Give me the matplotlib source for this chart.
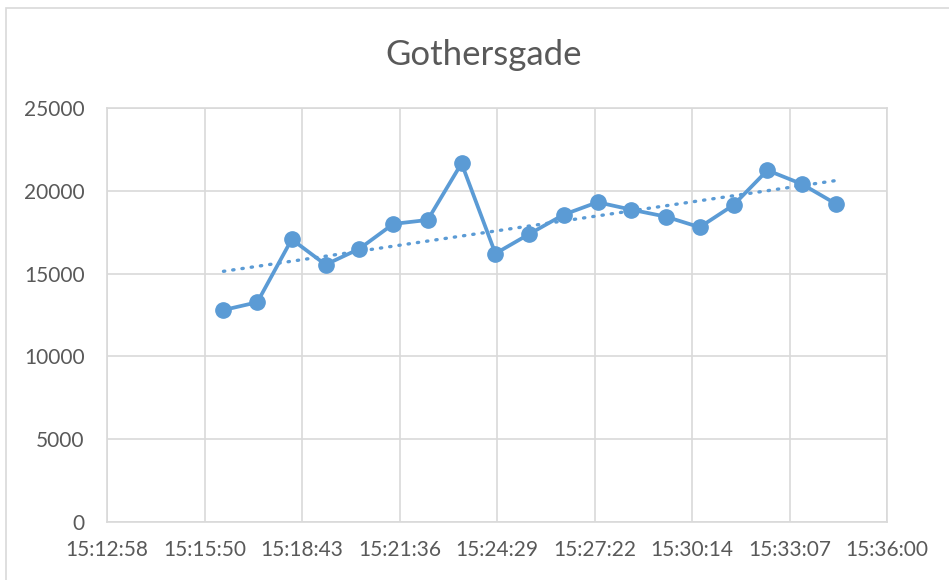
import matplotlib.pyplot as plt
import matplotlib.patches as mpatches
import numpy as np

# readings, one a minute
times = ['15:16:24', '15:17:24', '15:18:25', '15:19:25', '15:20:25', '15:21:25',
         '15:22:26', '15:23:26', '15:24:26', '15:25:26', '15:26:27', '15:27:27',
         '15:28:27', '15:29:28', '15:30:28', '15:31:28', '15:32:28', '15:33:29',
         '15:34:29']
values = [12800, 13270, 17070, 15540, 16500, 18000, 18240, 21660, 16210, 17390,
          18560, 19310, 18860, 18440, 17800, 19140, 21240, 20410, 19220]
tick_labels = ['15:12:58', '15:15:50', '15:18:43', '15:21:36', '15:24:29',
               '15:27:22', '15:30:14', '15:33:07', '15:36:00']
title = 'Gothersgade'

def to_days(s):
    h, m, sec = [int(p) for p in s.split(':')]
    return (h * 3600 + m * 60 + sec) / 86400.0

x = np.array([to_days(t) for t in times])
y = np.array(values)

blue = '#5B9BD5'
grey = '#595959'
plt.rcParams['font.family'] = ['Lato', 'DejaVu Sans']

fig = plt.figure(figsize=(9.49, 5.80), dpi=100)
# outer chart border (cut off at right/bottom in the reference)
fig.patches.append(mpatches.Rectangle((6 / 949, -0.05), 1.0, 1 - 8 / 580 + 0.05,
                                      transform=fig.transFigure, fill=False,
                                      edgecolor='#D9D9D9', linewidth=1.2))
ax = fig.add_axes([107 / 949, 1 - 522 / 580, 780 / 949, 414 / 580])

ax.plot(x, y, color=blue, linewidth=2.7, marker='o', markersize=11, zorder=3)

# linear trendline
k, b = np.polyfit(x, y, 1)
ax.plot(x[[0, -1]], k * x[[0, -1]] + b, color=blue, linewidth=2.4,
        linestyle=(0, (0.4, 2.4)), dash_capstyle='round', zorder=2)

ticks = [0.634 + 0.002 * i for i in range(len(tick_labels))]
ax.set_xlim(0.634, 0.650)
ax.set_xticks(ticks, labels=tick_labels)
ax.set_ylim(0, 25000)
ax.set_yticks(range(0, 25001, 5000))

ax.grid(True, color='#D9D9D9', linewidth=1.2)
ax.set_axisbelow(True)
for sp in ax.spines.values():
    sp.set_color('#D9D9D9')
    sp.set_linewidth(1.2)
ax.tick_params(length=0, colors=grey, labelsize=15)
ax.tick_params(axis='y', pad=16)
ax.tick_params(axis='x', pad=13)

fig.text(484 / 949, 1 - 55 / 580, title, ha='center', va='center',
         fontsize=25, color=grey)

plt.savefig('out.png', dpi=100)
